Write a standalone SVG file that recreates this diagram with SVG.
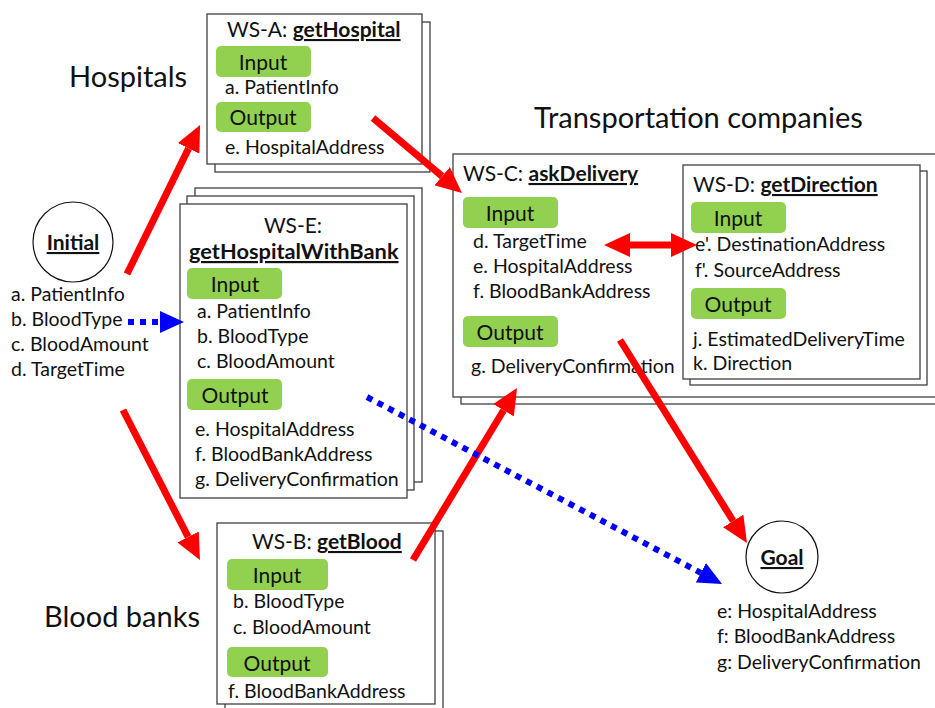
<svg xmlns="http://www.w3.org/2000/svg" width="935" height="708" viewBox="0 0 935 708">
  <style>
    .bg { fill: #ffffff; }
    .card { fill: #ffffff; stroke: #404040; stroke-width: 1.3; }
    .pill { fill: #92D050; }
    .t { font-family: Lato, "Liberation Sans", sans-serif; font-size: 19.5px; fill: #111111; }
    .pt { font-family: Lato, "Liberation Sans", sans-serif; font-size: 21px; fill: #111111; text-anchor: middle; }
    .h { font-family: Lato, "Liberation Sans", sans-serif; font-size: 21px; fill: #111111; }
    .b { font-weight: bold; text-decoration: underline; }
    .big { font-family: Lato, "Liberation Sans", sans-serif; font-size: 29px; fill: #111111; }
    .circ { fill: #ffffff; stroke: #111111; stroke-width: 1.2; }
    .red { stroke: #FF0000; stroke-width: 7; fill: none; }
    .blue { stroke: #0000FF; stroke-width: 6; stroke-dasharray: 6 6; fill: none; }
  </style>
  <defs>
    <marker id="redHead" viewBox="0 0 26 24" refX="0" refY="12" markerWidth="26" markerHeight="24" markerUnits="userSpaceOnUse" orient="auto-start-reverse">
      <path d="M0,0 L26,12 L0,24 z" fill="#FF0000"/>
    </marker>
    <marker id="blueHead" viewBox="0 0 24 22" refX="0" refY="11" markerWidth="24" markerHeight="22" markerUnits="userSpaceOnUse" orient="auto">
      <path d="M0,0 L24,11 L0,22 z" fill="#0000FF"/>
    </marker>
  </defs>
  <rect class="bg" x="0" y="0" width="935" height="708"/>

  <!-- group labels -->
  <text class="big" x="69" y="87">Hospitals</text>
  <text class="big" x="534" y="128">Transportation companies</text>
  <text class="big" x="44" y="627">Blood banks</text>

  <!-- start state -->
  <g id="initial">
    <circle class="circ" cx="73" cy="242" r="40"/>
    <text class="h" x="73" y="250" text-anchor="middle"><tspan class="b">Initial</tspan></text>
    <text class="t" x="11" y="301">a. PatientInfo</text>
    <text class="t" x="11" y="326">b. BloodType</text>
    <text class="t" x="11" y="351">c. BloodAmount</text>
    <text class="t" x="11" y="376">d. TargetTime</text>
  </g>

  <!-- WS-A -->
  <g id="ws-a">
    <rect class="card" x="215" y="22" width="215" height="150"/>
    <rect class="card" x="207" y="14" width="215" height="150"/>
    <text class="h" x="227" y="37">WS-A: <tspan class="b">getHospital</tspan></text>
    <rect class="pill" x="216" y="46" width="95" height="31" rx="5"/>
    <text class="pt" x="263" y="70">Input</text>
    <text class="t" x="225" y="94">a. PatientInfo</text>
    <rect class="pill" x="216" y="102" width="95" height="30" rx="5"/>
    <text class="pt" x="263" y="125">Output</text>
    <text class="t" x="225" y="154">e. HospitalAddress</text>
  </g>

  <!-- WS-E -->
  <g id="ws-e">
    <rect class="card" x="195" y="188" width="227" height="294"/>
    <rect class="card" x="187" y="196" width="227" height="294"/>
    <rect class="card" x="180" y="204" width="227" height="294"/>
    <text class="h" x="293" y="233" text-anchor="middle">WS-E:</text>
    <text class="h" x="189" y="259" style="font-size:21.8px"><tspan class="b">getHospitalWithBank</tspan></text>
    <rect class="pill" x="187" y="268" width="95" height="31" rx="5"/>
    <text class="pt" x="235" y="292">Input</text>
    <text class="t" x="197" y="318">a. PatientInfo</text>
    <text class="t" x="197" y="343">b. BloodType</text>
    <text class="t" x="197" y="368">c. BloodAmount</text>
    <rect class="pill" x="187" y="379" width="95" height="31" rx="5"/>
    <text class="pt" x="235" y="403">Output</text>
    <text class="t" x="195" y="436">e. HospitalAddress</text>
    <text class="t" x="195" y="461">f. BloodBankAddress</text>
    <text class="t" x="195" y="486">g. DeliveryConfirmation</text>
  </g>

  <!-- WS-B -->
  <g id="ws-b">
    <rect class="card" x="225" y="531" width="218" height="190"/>
    <rect class="card" x="217" y="523" width="218" height="181"/>
    <text class="h" x="252" y="549">WS-B: <tspan class="b">getBlood</tspan></text>
    <rect class="pill" x="227" y="559" width="101" height="31" rx="5"/>
    <text class="pt" x="277" y="583">Input</text>
    <text class="t" x="233" y="608">b. BloodType</text>
    <text class="t" x="233" y="634">c. BloodAmount</text>
    <rect class="pill" x="227" y="647" width="101" height="30" rx="5"/>
    <text class="pt" x="277" y="671">Output</text>
    <text class="t" x="228" y="698">f. BloodBankAddress</text>
  </g>

  <!-- WS-C (runs past the right edge) -->
  <g id="ws-c">
    <rect class="card" x="461" y="162" width="490" height="242"/>
    <rect class="card" x="453" y="154" width="490" height="243"/>
    <text class="h" x="463" y="181">WS-C: <tspan class="b">askDelivery</tspan></text>
    <rect class="pill" x="463" y="197" width="95" height="31" rx="5"/>
    <text class="pt" x="510" y="221">Input</text>
    <text class="t" x="473" y="248">d. TargetTime</text>
    <text class="t" x="473" y="273">e. HospitalAddress</text>
    <text class="t" x="473" y="298">f. BloodBankAddress</text>
    <rect class="pill" x="463" y="316" width="95" height="31" rx="5"/>
    <text class="pt" x="510" y="340">Output</text>
    <text class="t" x="471" y="373">g. DeliveryConfirmation</text>
  </g>

  <!-- WS-D -->
  <g id="ws-d">
    <rect class="card" x="690" y="171" width="237" height="214"/>
    <rect class="card" x="683" y="165" width="237" height="214"/>
    <text class="h" x="693" y="192">WS-D: <tspan class="b">getDirection</tspan></text>
    <rect class="pill" x="691" y="202" width="95" height="31" rx="5"/>
    <text class="pt" x="738" y="226">Input</text>
    <text class="t" x="695" y="251">e'. DestinationAddress</text>
    <text class="t" x="695" y="277">f'. SourceAddress</text>
    <rect class="pill" x="691" y="288" width="95" height="31" rx="5"/>
    <text class="pt" x="738" y="312">Output</text>
    <text class="t" x="693" y="346">j. EstimatedDeliveryTime</text>
    <text class="t" x="693" y="370">k. Direction</text>
  </g>

  <!-- goal state -->
  <g id="goal">
    <circle class="circ" cx="782" cy="557" r="36"/>
    <text class="h" x="782" y="565" text-anchor="middle"><tspan class="b">Goal</tspan></text>
    <text class="t" x="717" y="618">e: HospitalAddress</text>
    <text class="t" x="717" y="643">f: BloodBankAddress</text>
    <text class="t" x="717" y="669">g: DeliveryConfirmation</text>
  </g>

  <!-- connectors -->
  <g id="connectors">
    <line class="red" x1="127" y1="274" x2="188.6" y2="148.4" marker-end="url(#redHead)"/>
    <line class="red" x1="373" y1="118" x2="442.1" y2="176.2" marker-end="url(#redHead)"/>
    <line class="red" x1="123" y1="410" x2="188.1" y2="536.9" marker-end="url(#redHead)"/>
    <line class="red" x1="413" y1="560" x2="503.6" y2="410.2" marker-end="url(#redHead)"/>
    <line class="red" x1="620" y1="340" x2="733.2" y2="521" marker-end="url(#redHead)"/>
    <line class="red" x1="630" y1="245" x2="671" y2="245" marker-start="url(#redHead)" marker-end="url(#redHead)"/>
    <line class="blue" x1="128" y1="322" x2="160" y2="322" marker-end="url(#blueHead)"/>
    <line class="blue" x1="367" y1="397" x2="700.8" y2="572.8" marker-end="url(#blueHead)"/>
  </g>
</svg>
